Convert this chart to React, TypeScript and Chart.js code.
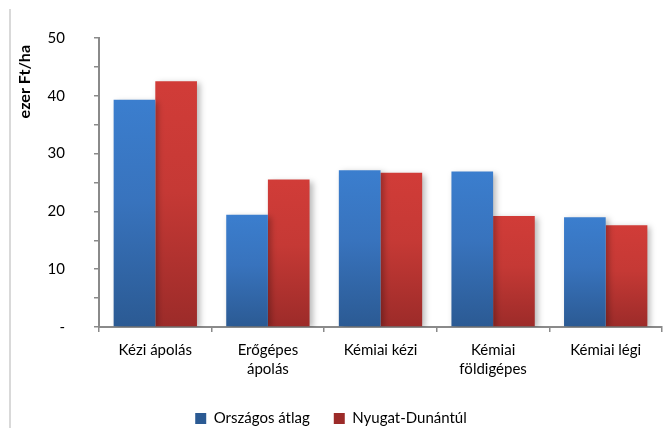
import React, { useEffect, useRef } from "react";
import { Chart, registerables } from "chart.js";

Chart.register(...registerables);

const categories: (string | string[])[] = [
  "Kézi ápolás",
  ["Erőgépes", "ápolás"],
  "Kémiai kézi",
  ["Kémiai", "földigépes"],
  "Kémiai légi",
];
const seriesNames = ["Országos átlag", "Nyugat-Dunántúl"];
const orszagos = [39.3, 19.4, 27.1, 26.9, 19.0];
const nyugat = [42.5, 25.5, 26.7, 19.2, 17.6];
const yMin = 0;
const yMax = 50;
const yStep = 5;
const yLabelStep = 10;
const yTitle = "ezer Ft/ha";

const FONT = "Lato, 'Open Sans', sans-serif";

function makeGradient(ctx: any, top: string, mid: string, bottom: string) {
  const chart = ctx.chart;
  const yScale = chart.scales?.y;
  if (!yScale || ctx.raw == null) return mid;
  const y0 = yScale.getPixelForValue(ctx.raw);
  const y1 = yScale.getPixelForValue(0);
  if (!isFinite(y0) || !isFinite(y1) || y0 === y1) return mid;
  const g = chart.ctx.createLinearGradient(0, y0, 0, y1);
  g.addColorStop(0, top);
  g.addColorStop(0.45, mid);
  g.addColorStop(1, bottom);
  return g;
}

const shadowPlugin = {
  id: "barShadow",
  beforeDatasetsDraw(chart: any) {
    const c = chart.ctx;
    c.save();
    c.shadowColor = "rgba(0,0,0,0.28)";
    c.shadowBlur = 6;
    c.shadowOffsetX = 3;
    c.shadowOffsetY = 2;
  },
  afterDatasetsDraw(chart: any) {
    chart.ctx.restore();
  },
};

const yTitlePlugin = {
  id: "yTitleCustom",
  afterDraw(chart: any) {
    const c = chart.ctx;
    const area = chart.chartArea;
    c.save();
    c.font = `bold 16px ${FONT}`;
    c.fillStyle = "#000";
    c.textAlign = "right";
    c.textBaseline = "middle";
    c.translate(25, area.top + 7);
    c.rotate(-Math.PI / 2);
    c.fillText(yTitle, 0, 0);
    c.restore();
  },
};

export default function App() {
  const ref = useRef<HTMLCanvasElement | null>(null);

  useEffect(() => {
    if (!ref.current) return;
    const chart = new Chart(ref.current, {
      type: "bar",
      data: {
        labels: categories,
        datasets: [
          {
            label: seriesNames[0],
            data: orszagos,
            backgroundColor: (ctx: any) =>
              ctx.type === "data"
                ? makeGradient(ctx, "#3B7ECE", "#3873BD", "#2B5A93")
                : "#3A78C6",
            borderWidth: 0,
          },
          {
            label: seriesNames[1],
            data: nyugat,
            backgroundColor: (ctx: any) =>
              ctx.type === "data"
                ? makeGradient(ctx, "#D13C38", "#C53935", "#9C2B29")
                : "#CB3A36",
            borderWidth: 0,
          },
        ],
      },
      options: {
        animation: false,
        responsive: true,
        maintainAspectRatio: false,
        layout: { padding: { top: 34, right: 1, left: 0, bottom: -8 } },
        datasets: {
          bar: { categoryPercentage: 0.74, barPercentage: 1.0 },
        },
        scales: {
          x: {
            grid: {
              display: true,
              drawOnChartArea: false,
              drawTicks: true,
              tickLength: 5,
              color: "#8A8A8A",
              lineWidth: 1.5,
              offset: true,
            },
            border: { display: true, color: "#8A8A8A", width: 2 },
            ticks: {
              color: "#000",
              font: { family: FONT, size: 15, lineHeight: 1.3 },
              padding: 8,
              maxRotation: 0,
              autoSkip: false,
            },
          },
          y: {
            min: yMin,
            max: yMax,
            afterFit: (s: any) => {
              s.width = 99;
            },
            grid: {
              display: true,
              drawOnChartArea: false,
              drawTicks: true,
              tickLength: 5,
              color: "#8A8A8A",
              lineWidth: 1.5,
            },
            border: { display: true, color: "#8A8A8A", width: 2 },
            ticks: {
              stepSize: yStep,
              color: "#000",
              font: { family: FONT, size: 15 },
              padding: 29,
              callback: (v: any) => {
                const n = Number(v);
                if (n % yLabelStep !== 0) return "";
                return n === 0 ? "-" : String(n);
              },
            },
          },
        },
        plugins: {
          legend: {
            position: "bottom",
            labels: {
              color: "#000",
              font: { family: FONT, size: 15 },
              boxWidth: 11,
              boxHeight: 11,
              padding: 24,
            },
          },
          tooltip: { enabled: false },
          title: { display: false },
        },
      },
      plugins: [shadowPlugin, yTitlePlugin],
    } as any);
    return () => chart.destroy();
  }, []);

  return (
    <div
      style={{
        position: "absolute",
        left: 0,
        top: 0,
        width: 663,
        height: 428,
        background: "#fff",
      }}
    >
      <div
        style={{
          position: "absolute",
          left: 9,
          top: 9,
          width: 0,
          height: 419,
          borderLeft: "2px solid #D9D9D9",
        }}
      />
      <canvas ref={ref} style={{ position: "absolute", left: 0, top: 0 }} />
    </div>
  );
}
